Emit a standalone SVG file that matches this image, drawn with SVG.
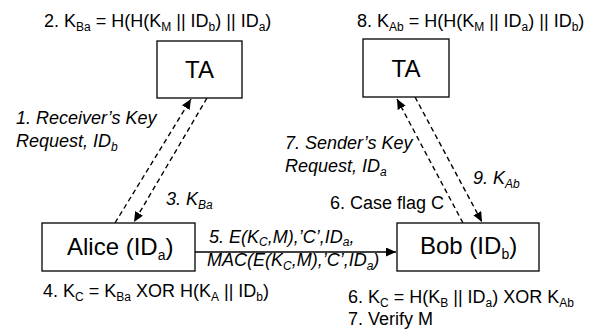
<svg xmlns="http://www.w3.org/2000/svg" width="603" height="331" viewBox="0 0 603 331">
<style>
text { font-family: "Liberation Sans", Arial, sans-serif; fill: #000; }
.t { font-size: 18px; }
.i { font-size: 18px; font-style: italic; }
.b { font-size: 24px; }
.s { font-size: 12px; }
.bs { font-size: 14px; }
.box { fill: #fff; stroke: #000; stroke-width: 1.3; }
.dash { fill: none; stroke: #000; stroke-width: 1.4; stroke-dasharray: 5 3.5; }
.solid { fill: none; stroke: #000; stroke-width: 1.3; }
</style>
<defs>
<marker id="ah" markerUnits="userSpaceOnUse" markerWidth="11" markerHeight="9" refX="10" refY="4.5" orient="auto">
<path d="M0,0 L10,4.5 L0,9 z" fill="#000"/>
</marker>
</defs>
<rect width="603" height="331" fill="#fff"/>

<g id="connectors">
<line class="dash" x1="115" y1="223" x2="191" y2="99" marker-end="url(#ah)"/>
<line class="dash" x1="207" y1="98" x2="134" y2="222" marker-end="url(#ah)"/>
<line class="dash" x1="463" y1="223" x2="397" y2="99" marker-end="url(#ah)"/>
<line class="dash" x1="415" y1="97" x2="482" y2="222" marker-end="url(#ah)"/>
<line class="solid" x1="195" y1="252" x2="396" y2="252" marker-end="url(#ah)"/>
</g>

<g id="ta1">
<rect class="box" x="157" y="41" width="85" height="57"/>
<text class="b" x="199.5" y="78" text-anchor="middle">TA</text>
</g>
<g id="ta2">
<rect class="box" x="363" y="39" width="86" height="58"/>
<text class="b" x="406" y="77" text-anchor="middle">TA</text>
</g>
<g id="alice">
<rect class="box" x="42" y="223" width="153" height="48"/>
<text class="b" x="67" y="255">Alice (ID<tspan class="bs" dy="5">a</tspan><tspan dy="-5">)</tspan></text>
</g>
<g id="bob">
<rect class="box" x="397" y="223" width="142" height="48"/>
<text class="b" x="420" y="254">Bob (ID<tspan class="bs" dy="5">b</tspan><tspan dy="-5">)</tspan></text>
</g>

<g id="labels">
<text class="t" x="44" y="27">2. K<tspan class="s" dy="4">Ba</tspan><tspan dy="-4"> = H(H(K</tspan><tspan class="s" dy="4">M</tspan><tspan dy="-4"> || ID</tspan><tspan class="s" dy="4">b</tspan><tspan dy="-4">) || ID</tspan><tspan class="s" dy="4">a</tspan><tspan dy="-4">)</tspan></text>
<text class="t" x="357" y="27">8. K<tspan class="s" dy="4">Ab</tspan><tspan dy="-4"> = H(H(K</tspan><tspan class="s" dy="4">M</tspan><tspan dy="-4"> || ID</tspan><tspan class="s" dy="4">a</tspan><tspan dy="-4">) || ID</tspan><tspan class="s" dy="4">b</tspan><tspan dy="-4">)</tspan></text>

<text class="i" x="16" y="124">1. Receiver’s Key</text>
<text class="i" x="16" y="147">Request, ID<tspan class="s" dy="4">b</tspan></text>
<text class="i" x="166" y="205">3. K<tspan class="s" dy="4">Ba</tspan></text>

<text class="i" x="285" y="149">7. Sender’s Key</text>
<text class="i" x="285" y="172">Request, ID<tspan class="s" dy="4">a</tspan></text>
<text class="i" x="473" y="184">9. K<tspan class="s" dy="4">Ab</tspan></text>
<text class="t" x="330" y="209">6. Case flag C</text>

<text class="i" x="209" y="243">5. E(K<tspan class="s" dy="3">C</tspan><tspan dy="-3">,M),’C’,ID</tspan><tspan class="s" dy="3">a</tspan><tspan dy="-3">,</tspan></text>
<text class="i" x="207" y="266">MAC(E(K<tspan class="s" dy="4">C</tspan><tspan dy="-4">,M),’C’,ID</tspan><tspan class="s" dy="4">a</tspan><tspan dy="-4">)</tspan></text>

<text class="t" x="43" y="297">4. K<tspan class="s" dy="4">C</tspan><tspan dy="-4"> = K</tspan><tspan class="s" dy="4">Ba</tspan><tspan dy="-4"> XOR H(K</tspan><tspan class="s" dy="4">A</tspan><tspan dy="-4"> || ID</tspan><tspan class="s" dy="4">b</tspan><tspan dy="-4">)</tspan></text>
<text class="t" x="348" y="303">6. K<tspan class="s" dy="4">C</tspan><tspan dy="-4"> = H(K</tspan><tspan class="s" dy="4">B</tspan><tspan dy="-4"> || ID</tspan><tspan class="s" dy="4">a</tspan><tspan dy="-4">) XOR K</tspan><tspan class="s" dy="4">Ab</tspan></text>
<text class="t" x="348" y="325">7. Verify M</text>
</g>
</svg>
